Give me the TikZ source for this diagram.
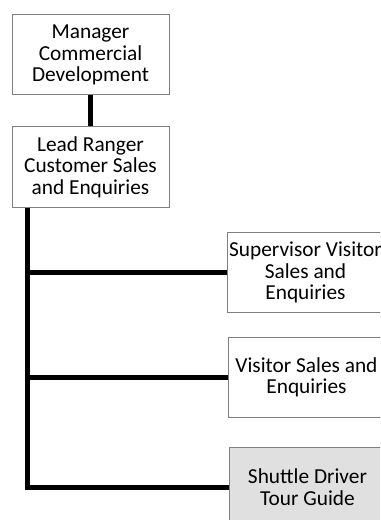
\documentclass[tikz,border=0pt]{standalone}
\usepackage{fontspec}
\setmainfont{Carlito}
\begin{document}
\begin{tikzpicture}[
  x=0.75pt, y=-0.75pt,
  orgbox/.style={draw=black!50, fill=white, rectangle, line width=0.75pt,
                 minimum width=117.75pt, minimum height=60pt, align=center,
                 inner sep=1pt, font=\fontsize{16}{16}\selectfont},
  shadedbox/.style={orgbox, fill=black!12},
  orgline/.style={-, line width=3.75pt, black}
]
\clip (0,0) rectangle (380,520);
\fill[white] (0,0) rectangle (380,520);

\node[orgbox] (mgr) at (90.5,55) {Manager\\Commercial\\Development};
\node[orgbox] (lead) at (90.5,167) {Lead Ranger\\Customer Sales\\and Enquiries};
\node[orgbox] (sup) at (305.5,272.5) {Supervisor Visitor\\Sales and\\Enquiries};
\node[orgbox] (vis) at (306.5,377) {Visitor Sales and\\Enquiries};
\node[shadedbox] (shut) at (307.5,487) {Shuttle Driver\\Tour Guide};

\coordinate (spine) at ([xshift=12pt]lead.south west);

\draw[orgline] (mgr) -- (lead);
\draw[orgline] (spine) |- (sup);
\draw[orgline] (spine) |- (vis);
\draw[orgline] (spine) |- (shut);
\end{tikzpicture}
\end{document}
